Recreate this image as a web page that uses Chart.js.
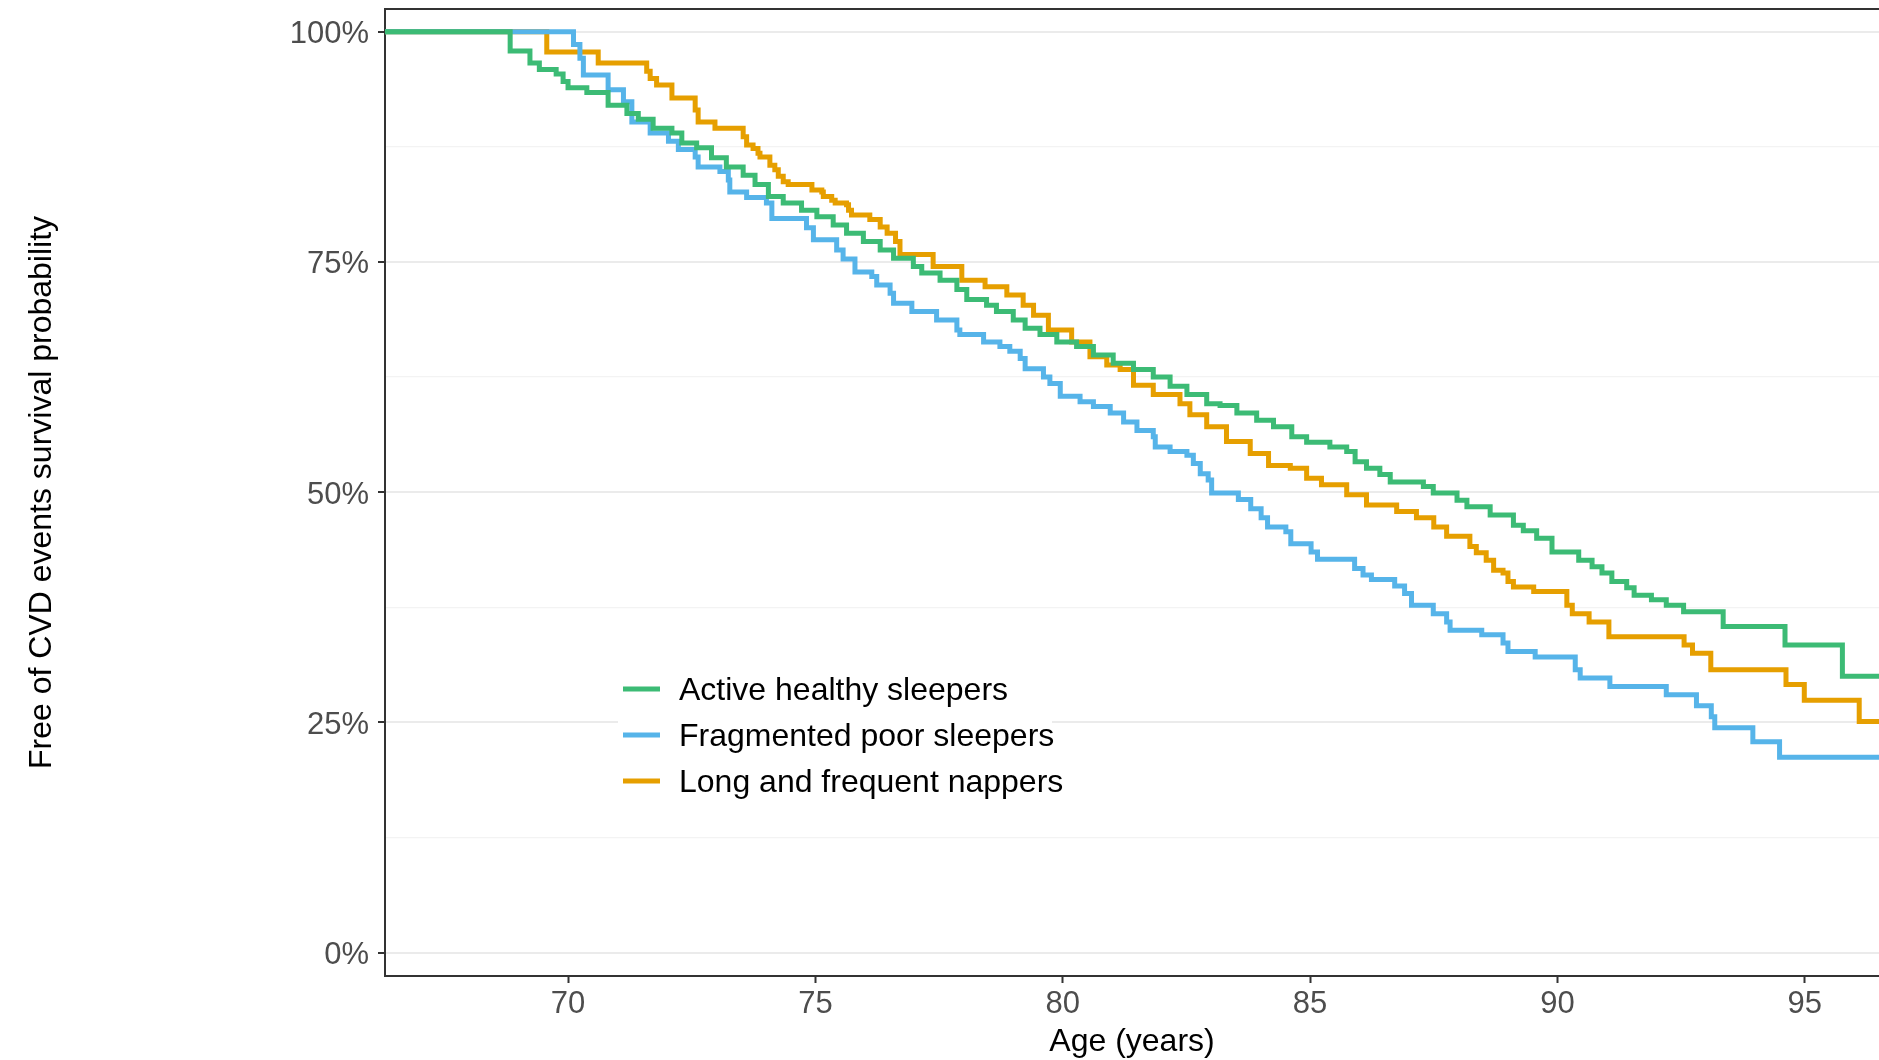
<!DOCTYPE html>
<html>
<head>
<meta charset="utf-8">
<title>CVD event-free survival by sleep phenotype</title>
<script src="https://cdn.jsdelivr.net/npm/chart.js@4.4.1/dist/chart.umd.min.js"></script>
<style>
  html, body { margin: 0; padding: 0; background: #ffffff; }
  #wrap { width: 1879px; height: 1060px; }
</style>
</head>
<body>
<div id="wrap"><canvas id="kmChart" width="1879" height="1060"></canvas></div>
<script>
// Kaplan-Meier steps: age at each drop, survival after it
const groupNames = ['Active healthy sleepers', 'Fragmented poor sleepers', 'Long and frequent nappers'];
const groupColors = ['#3CBB75', '#56B4E9', '#E69F00'];

const activeAge = [65, 68.83, 69.23, 69.42, 69.76, 69.90, 70.00, 70.38, 70.81, 71.19, 71.42, 71.72, 72.10, 72.30, 72.60, 72.90,
  73.20, 73.54, 73.78, 74.05, 74.35, 74.72, 75.03, 75.36, 75.63, 75.97, 76.31, 76.58, 76.98, 77.15, 77.52, 77.86,
  78.06, 78.46, 78.66, 79.00, 79.24, 79.54, 79.88, 80.28, 80.62, 81.02, 81.43, 81.83, 82.17, 82.51, 82.91, 83.18,
  83.52, 83.92, 84.26, 84.63, 84.93, 85.40, 85.74, 85.91, 86.14, 86.41, 86.62, 87.29, 87.49, 87.97, 88.17, 88.64,
  89.11, 89.31, 89.58, 89.89, 90.43, 90.70, 90.90, 91.10, 91.40, 91.55, 91.90, 92.20, 92.55, 93.35, 94.60, 95.76, 97];
const activeSurv = [1, 0.979, 0.966, 0.959, 0.954, 0.946, 0.939, 0.934, 0.920, 0.911, 0.905, 0.895, 0.890, 0.879, 0.874, 0.863,
  0.853, 0.844, 0.834, 0.821, 0.814, 0.806, 0.799, 0.790, 0.781, 0.772, 0.763, 0.754, 0.745, 0.738, 0.730, 0.720,
  0.709, 0.703, 0.696, 0.687, 0.678, 0.671, 0.663, 0.658, 0.649, 0.640, 0.633, 0.625, 0.615, 0.606, 0.596, 0.594,
  0.586, 0.578, 0.571, 0.560, 0.554, 0.549, 0.544, 0.533, 0.526, 0.519, 0.511, 0.506, 0.499, 0.491, 0.484, 0.475,
  0.464, 0.458, 0.450, 0.435, 0.426, 0.419, 0.412, 0.403, 0.396, 0.388, 0.383, 0.377, 0.370, 0.354, 0.334, 0.300, 0.300];

const fragAge = [65, 70.11, 70.24, 70.31, 70.81, 71.12, 71.29, 71.66, 72.03, 72.23, 72.57, 72.63, 73.07, 73.24, 73.27, 73.61,
  74.01, 74.12, 74.82, 74.96, 75.43, 75.56, 75.80, 76.14, 76.24, 76.51, 76.58, 76.95, 77.45, 77.86, 77.92, 78.40,
  78.73, 78.93, 79.14, 79.24, 79.61, 79.74, 79.95, 80.35, 80.62, 80.96, 81.23, 81.50, 81.83, 81.87, 82.17, 82.51,
  82.64, 82.78, 82.94, 83.01, 83.55, 83.80, 84.01, 84.14, 84.51, 84.61, 85.02, 85.15, 85.90, 86.07, 86.24, 86.71,
  86.91, 87.05, 87.49, 87.76, 87.83, 88.47, 88.90, 89.00, 89.55, 90.36, 90.46, 91.06, 92.20, 92.81, 93.11, 93.18,
  93.95, 94.49, 97];
const fragSurv = [1, 0.986, 0.971, 0.953, 0.937, 0.924, 0.902, 0.890, 0.881, 0.872, 0.864, 0.853, 0.848, 0.839, 0.826, 0.820,
  0.814, 0.797, 0.787, 0.774, 0.763, 0.753, 0.739, 0.734, 0.725, 0.716, 0.705, 0.696, 0.687, 0.676, 0.671, 0.663,
  0.658, 0.653, 0.645, 0.634, 0.625, 0.618, 0.604, 0.598, 0.593, 0.586, 0.576, 0.567, 0.560, 0.549, 0.544, 0.540,
  0.531, 0.520, 0.513, 0.499, 0.492, 0.482, 0.472, 0.462, 0.457, 0.444, 0.435, 0.427, 0.417, 0.410, 0.405, 0.398,
  0.390, 0.377, 0.368, 0.359, 0.350, 0.345, 0.336, 0.327, 0.321, 0.307, 0.298, 0.289, 0.280, 0.268, 0.256, 0.244,
  0.229, 0.212, 0.212];

const napAge = [65, 69.57, 70.61, 71.59, 71.66, 71.79, 72.10, 72.57, 72.63, 72.97, 73.54, 73.61, 73.74, 73.84, 73.88, 74.08,
  74.18, 74.25, 74.35, 74.45, 74.93, 75.13, 75.16, 75.33, 75.40, 75.63, 75.67, 75.73, 76.10, 76.31, 76.45, 76.62,
  76.71, 77.38, 77.96, 78.43, 78.87, 79.20, 79.41, 79.71, 80.18, 80.55, 80.89, 81.16, 81.43, 81.83, 82.37, 82.57,
  82.91, 83.31, 83.79, 84.16, 84.60, 84.93, 85.23, 85.74, 86.14, 86.75, 87.15, 87.50, 87.76, 88.23, 88.36, 88.56,
  88.71, 88.90, 89.00, 89.11, 89.52, 90.19, 90.30, 90.64, 91.04, 92.56, 92.73, 93.10, 94.62, 94.99, 96.10, 97];
const napSurv = [1, 0.978, 0.966, 0.957, 0.949, 0.942, 0.928, 0.915, 0.902, 0.895, 0.886, 0.877, 0.873, 0.868, 0.864, 0.855,
  0.850, 0.843, 0.837, 0.834, 0.828, 0.826, 0.821, 0.817, 0.814, 0.812, 0.806, 0.801, 0.796, 0.788, 0.781, 0.772,
  0.758, 0.745, 0.730, 0.723, 0.714, 0.703, 0.692, 0.676, 0.663, 0.647, 0.638, 0.633, 0.616, 0.606, 0.596, 0.584,
  0.571, 0.555, 0.542, 0.529, 0.526, 0.515, 0.508, 0.497, 0.486, 0.479, 0.472, 0.462, 0.452, 0.441, 0.434, 0.426,
  0.415, 0.412, 0.403, 0.397, 0.392, 0.377, 0.368, 0.359, 0.343, 0.334, 0.325, 0.307, 0.291, 0.274, 0.251, 0.251];

const xTicks = [70, 75, 80, 85, 90, 95];
const yMajorTicks = [0, 0.25, 0.5, 0.75, 1];
const yMinorTicks = [0.125, 0.375, 0.625, 0.875];

const fontFamily = "'Liberation Sans', Arial, Helvetica, sans-serif";

function toPoints(ages, surv) {
    return ages.map((a, i) => ({ x: a, y: surv[i] }));
}

function isMajor(v) {
    return yMajorTicks.some(t => Math.abs(t - v) < 1e-6);
}

// Top border of the panel (ggplot theme_bw style)
const panelTop = {
    id: 'panelTop',
    afterDraw(chart) {
        const { ctx, chartArea } = chart;
        ctx.save();
        ctx.strokeStyle = '#333333';
        ctx.lineWidth = 2;
        ctx.beginPath();
        ctx.moveTo(chartArea.left, chartArea.top);
        ctx.lineTo(chartArea.right, chartArea.top);
        ctx.stroke();
        ctx.restore();
    }
};

// Legend placed inside the panel, with a white key box
const insideLegend = {
    id: 'insideLegend',
    afterDatasetsDraw(chart) {
        const { ctx, chartArea } = chart;
        const left = chartArea.left + 233;
        const top = chartArea.top + 657;
        ctx.save();
        ctx.fillStyle = '#ffffff';
        ctx.fillRect(left, top, 434, 140);
        ctx.font = '32px ' + fontFamily;
        ctx.textBaseline = 'middle';
        chart.data.datasets.forEach((ds, i) => {
            const y = top + 23 + i * 46;
            ctx.strokeStyle = ds.borderColor;
            ctx.lineWidth = 5;
            ctx.beginPath();
            ctx.moveTo(left + 5, y);
            ctx.lineTo(left + 42, y);
            ctx.stroke();
            ctx.fillStyle = '#000000';
            ctx.fillText(ds.label, left + 61, y + 2);
        });
        ctx.restore();
    }
};

const series = [toPoints(activeAge, activeSurv), toPoints(fragAge, fragSurv), toPoints(napAge, napSurv)];

new Chart(document.getElementById('kmChart'), {
    type: 'line',
    data: {
        datasets: series.map((pts, i) => ({
            label: groupNames[i],
            data: pts,
            borderColor: groupColors[i],
            backgroundColor: groupColors[i],
            borderWidth: 5,
            stepped: 'before',
            pointRadius: 0,
            fill: false
        }))
    },
    options: {
        responsive: false,
        devicePixelRatio: 1,
        animation: false,
        layout: { padding: { top: 9, right: 0, bottom: 0, left: 0 } },
        plugins: {
            legend: { display: false },
            tooltip: { enabled: false }
        },
        scales: {
            x: {
                type: 'linear',
                min: 66.3,
                max: 96.5,
                afterBuildTicks: s => { s.ticks = xTicks.map(v => ({ value: v })); },
                afterFit: s => { s.height = 84; s.paddingLeft = 0; s.paddingRight = 0; },
                grid: { drawOnChartArea: false, tickLength: 7, tickWidth: 2, tickColor: '#333333' },
                border: { color: '#333333', width: 2 },
                ticks: {
                    autoSkip: false,
                    maxRotation: 0,
                    padding: 3,
                    color: '#4d4d4d',
                    font: { family: fontFamily, size: 31 }
                },
                title: {
                    display: true,
                    text: 'Age (years)',
                    color: '#000000',
                    padding: { top: 0, bottom: 0 },
                    font: { family: fontFamily, size: 32, lineHeight: 1.1 }
                }
            },
            y: {
                min: -0.0255,
                max: 1.0246,
                afterBuildTicks: s => {
                    s.ticks = yMajorTicks.concat(yMinorTicks).sort((a, b) => a - b).map(v => ({ value: v }));
                },
                afterFit: s => { s.width = 385; s.paddingTop = 0; s.paddingBottom = 0; },
                grid: {
                    color: ctx => isMajor(ctx.tick.value) ? '#ebebeb' : '#f3f3f3',
                    lineWidth: ctx => isMajor(ctx.tick.value) ? 2 : 1.2,
                    tickLength: 7,
                    tickWidth: 2,
                    tickColor: ctx => isMajor(ctx.tick.value) ? '#333333' : 'rgba(0,0,0,0)'
                },
                border: { color: '#333333', width: 2 },
                ticks: {
                    autoSkip: false,
                    padding: 9,
                    labelOffset: 3,
                    color: '#4d4d4d',
                    font: { family: fontFamily, size: 31 },
                    callback: v => isMajor(v) ? Math.round(v * 100) + '%' : ''
                },
                title: {
                    display: true,
                    text: 'Free of CVD events survival probability',
                    color: '#000000',
                    padding: { top: 23, bottom: 0 },
                    font: { family: fontFamily, size: 32 }
                }
            }
        }
    },
    plugins: [panelTop, insideLegend]
});
</script>
</body>
</html>
